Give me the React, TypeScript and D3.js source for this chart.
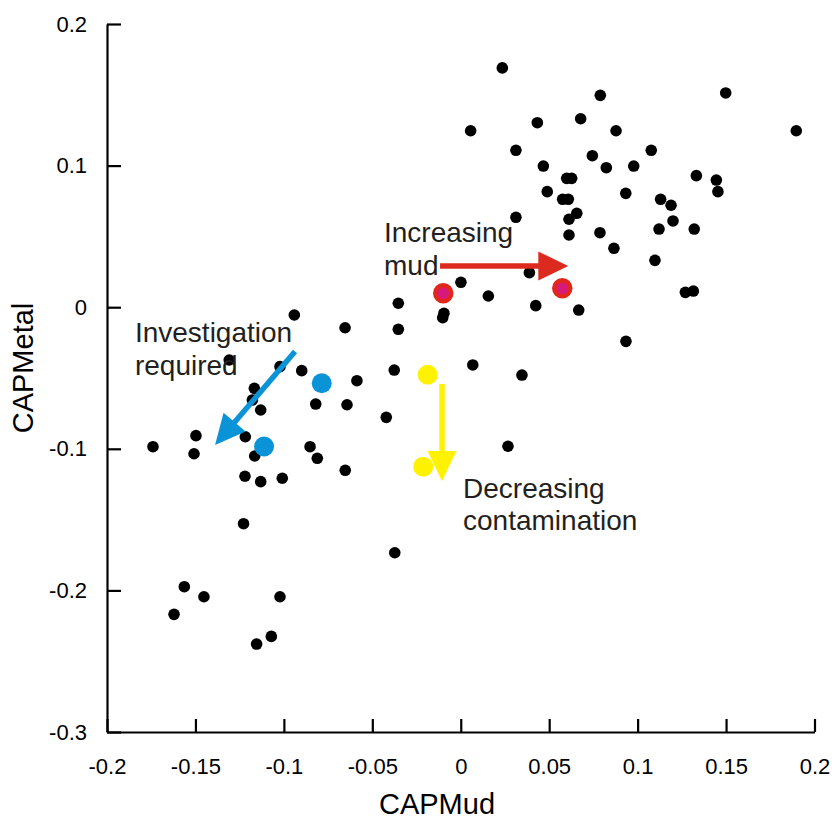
import React, { useEffect, useRef } from 'react';
import * as d3 from 'd3';

// CAP scores
const capMud = [
  0.0235, 0.0056, 0.0433, 0.0312, 0.0467, 0.0489, 0.0312, 0.0789, 0.1498, 0.0678,
  0.0878, 0.1897, 0.1077, 0.0744, 0.0823, 0.0978, 0.1332, 0.1445, 0.1454, 0.0599,
  0.0627, 0.0576, 0.0608, 0.0656, 0.0612, 0.0612, 0.0933, 0.1130, 0.1189, 0.1200,
  0.1121, 0.1320, 0.0787, 0.0866, 0.1098, 0.1270, 0.1315, 0.0667, 0.0934, 0.0388,
  0.0001, 0.0156, 0.0424, -0.0353, -0.0095, -0.0102, -0.0353, -0.0941, -0.0654, -0.1309,
  -0.1022, -0.0899, -0.0376, 0.0068, 0.0346, -0.0587, -0.1167, -0.1178, -0.1131, -0.0820,
  -0.0643, -0.0421, -0.1740, -0.1497, -0.1508, -0.1218, -0.1165, -0.0852, -0.0811, -0.0653,
  0.0267, -0.1220, -0.1131, -0.1009, -0.1228, -0.0373, -0.1563, -0.1452, -0.1621, -0.1022,
  -0.1071, -0.1154,
];
const capMetal = [
  0.1690, 0.1246, 0.1303, 0.1108, 0.0997, 0.0816, 0.0635, 0.1496, 0.1513, 0.1331,
  0.1246, 0.1246, 0.1108, 0.1070, 0.0985, 0.0997, 0.0929, 0.0898, 0.0816, 0.0910,
  0.0910, 0.0762, 0.0762, 0.0663, 0.0621, 0.0510, 0.0804, 0.0762, 0.0720, 0.0609,
  0.0552, 0.0552, 0.0526, 0.0416, 0.0331, 0.0105, 0.0114, -0.0020, -0.0241, 0.0244,
  0.0176, 0.0079, 0.0011, 0.0028, -0.0043, -0.0074, -0.0156, -0.0055, -0.0145, -0.0373,
  -0.0420, -0.0448, -0.0444, -0.0408, -0.0479, -0.0519, -0.0573, -0.0655, -0.0726, -0.0684,
  -0.0689, -0.0778, -0.0985, -0.0907, -0.1035, -0.0915, -0.1051, -0.0985, -0.1067, -0.1152,
  -0.0982, -0.1194, -0.1232, -0.1208, -0.1529, -0.1734, -0.1974, -0.2045, -0.2169, -0.2045,
  -0.2325, -0.2379,
];

// highlighted sites
const blueMud = [-0.0786, -0.1112];
const blueMetal = [-0.0537, -0.0984];
const yellowMud = [-0.0187, -0.0212];
const yellowMetal = [-0.0477, -0.1126];
const redMud = [-0.0099, 0.0574];
const redMetal = [0.0098, 0.0133];

const xTicks = [-0.2, -0.15, -0.1, -0.05, 0, 0.05, 0.1, 0.15, 0.2];
const yTicks = [0.2, 0.1, 0, -0.1, -0.2, -0.3];

// arrows in data units
const arrows = [
  { from: [-0.0117, 0.0291], to: [0.0608, 0.0291], color: '#dc2a1f' },
  { from: [-0.0937, -0.0313], to: [-0.1389, -0.0973], color: '#0b93d8' },
  { from: [-0.0106, -0.0542], to: [-0.0106, -0.1227], color: '#fff200' },
];

const notes = [
  { x: -0.0434, y: 0.046, lines: ['Increasing', 'mud'] },
  { x: -0.1842, y: -0.0246, lines: ['Investigation', 'required'] },
  { x: 0.0013, y: -0.1347, lines: ['Decreasing', 'contamination'] },
];

const W = 832;
const H = 821;

const App = () => {
  const svgRef = useRef<SVGSVGElement>(null);

  useEffect(() => {
    const svg = d3.select(svgRef.current);
    svg.selectAll('*').remove();

    const x = d3.scaleLinear().domain([-0.2, 0.2]).range([107, 814.5]);
    const y = d3.scaleLinear().domain([-0.3, 0.2]).range([732, 24]);

    const font = '"Liberation Sans", Arial, sans-serif';

    // axes
    const gx = svg.append('g')
      .attr('transform', `translate(0,${y(-0.3)})`)
      .call(d3.axisBottom(x).tickValues(xTicks).tickSizeInner(-13).tickSizeOuter(0)
        .tickPadding(26).tickFormat(d => String(d)));
    const gy = svg.append('g')
      .attr('transform', `translate(${x(-0.2)},0)`)
      .call(d3.axisLeft(y).tickValues(yTicks).tickSizeInner(-14).tickSizeOuter(0)
        .tickPadding(20).tickFormat(d => String(d)));

    [gx, gy].forEach(g => {
      g.select('.domain').attr('stroke', '#000').attr('stroke-width', 2.2);
      g.selectAll('.tick line').attr('stroke', '#000').attr('stroke-width', 2.2);
      g.selectAll('.tick text')
        .attr('fill', '#000')
        .style('font-family', font)
        .style('font-size', '22px');
    });

    // axis titles
    svg.append('text')
      .attr('x', 437)
      .attr('y', 814)
      .attr('text-anchor', 'middle')
      .style('font-family', font)
      .style('font-size', '29px')
      .text('CAPMud');

    svg.append('text')
      .attr('transform', 'translate(33,368) rotate(-90)')
      .attr('text-anchor', 'middle')
      .style('font-family', font)
      .style('font-size', '29px')
      .text('CAPMetal');

    // black points
    svg.append('g')
      .selectAll('circle')
      .data(capMud.map((m, i) => [m, capMetal[i]]))
      .enter()
      .append('circle')
      .attr('cx', d => x(d[0]))
      .attr('cy', d => y(d[1]))
      .attr('r', 5.8)
      .attr('fill', '#000');

    // arrows
    arrows.forEach(a => {
      const x1 = x(a.from[0]), y1 = y(a.from[1]);
      const x2 = x(a.to[0]), y2 = y(a.to[1]);
      const len = Math.hypot(x2 - x1, y2 - y1);
      const ux = (x2 - x1) / len, uy = (y2 - y1) / len;
      const headLen = 30, headW = 14.5;
      const bx = x2 - ux * headLen, by = y2 - uy * headLen;
      svg.append('line')
        .attr('x1', x1).attr('y1', y1)
        .attr('x2', bx + ux * 2).attr('y2', by + uy * 2)
        .attr('stroke', a.color)
        .attr('stroke-width', 5.5);
      svg.append('polygon')
        .attr('points', [
          [x2, y2],
          [bx - uy * headW, by + ux * headW],
          [bx + uy * headW, by - ux * headW],
        ].map(p => p.join(',')).join(' '))
        .attr('fill', a.color);
    });

    // highlighted points
    const dots = svg.append('g');
    blueMud.forEach((m, i) => {
      dots.append('circle')
        .attr('cx', x(m)).attr('cy', y(blueMetal[i]))
        .attr('r', 10).attr('fill', '#0b93d8');
    });
    yellowMud.forEach((m, i) => {
      dots.append('circle')
        .attr('cx', x(m)).attr('cy', y(yellowMetal[i]))
        .attr('r', 10).attr('fill', '#fff200');
    });
    redMud.forEach((m, i) => {
      dots.append('circle')
        .attr('cx', x(m)).attr('cy', y(redMetal[i]))
        .attr('r', 8).attr('fill', '#d8197c')
        .attr('stroke', '#e1261c').attr('stroke-width', 4.5);
    });

    // annotations
    notes.forEach(n => {
      const t = svg.append('text')
        .attr('x', x(n.x))
        .attr('y', y(n.y))
        .attr('fill', '#231f20')
        .style('font-family', font)
        .style('font-size', '28px');
      n.lines.forEach((l, i) => {
        t.append('tspan')
          .attr('x', x(n.x))
          .attr('dy', i === 0 ? 0 : 32.5)
          .text(l);
      });
    });
  }, []);

  return (
    <svg
      ref={svgRef}
      width={W}
      height={H}
      style={{ position: 'absolute', left: 0, top: 0, background: '#fff' }}
    />
  );
};

export default App;
